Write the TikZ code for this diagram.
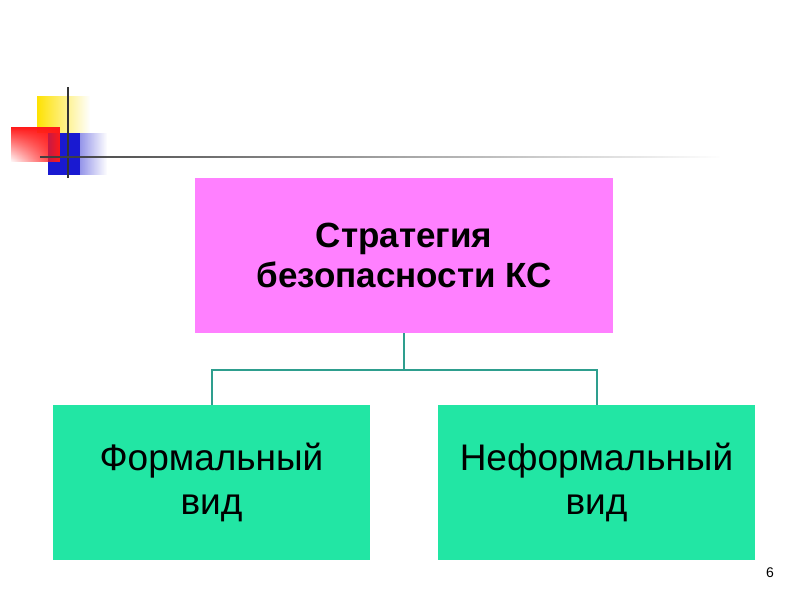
\documentclass[tikz,border=0pt]{standalone}
\usepackage{fontspec}
\setmainfont{Liberation Sans}
\usetikzlibrary{fadings}
\definecolor{mag}{HTML}{FF80FF}
\definecolor{grn}{HTML}{22E6A4}
\definecolor{lnk}{HTML}{2E9E8E}
\begin{document}
\begin{tikzpicture}[x=1pt,y=-1pt,
  boxst/.style={draw=none,minimum width=#1,align=center,inner sep=0pt},
  link/.style={draw=lnk,line width=2pt}]
\useasboundingbox[fill=white] (0,0) rectangle (800,600);
% decoration
\fill[yellow!85!orange,path fading=east] (37,96) rectangle (90,133);
\fill[red!90!white,path fading=south] (11,127) rectangle (60,162);
\fill[blue!80!black!90,path fading=east] (48,133) rectangle (107,175);
\fill[blue!80!black!90] (48,133) rectangle (80,175);
\fill[red!90!white,path fading=west] (11,127) rectangle (60,162);
\draw[line width=2pt,black!80] (68,87) -- (68,178);
\draw[line width=2.5pt,black!75,path fading=east] (40,157) -- (720,157);
% boxes
\node[fill=mag,minimum width=418pt,minimum height=155pt,align=center,font=\fontsize{35}{40}\selectfont\bfseries] (top) at (404,255.5) {Стратегия\\безопасности КС};
\node[fill=grn,minimum width=317pt,minimum height=155pt,align=center,font=\fontsize{37}{44}\selectfont] (l) at (211.5,482.5) {Формальный\\вид};
\node[fill=grn,minimum width=317pt,minimum height=155pt,align=center,font=\fontsize{37}{44}\selectfont] (r) at (596.5,482.5) {Неформальный\\вид};
\coordinate (m) at (404,370);
\draw[link] (top.south) -- (m);
\draw[link] (l.north) |- (m) -| (r.north);
\node[font=\fontsize{14}{16}\selectfont] (pg) at (770,573) {6};
\end{tikzpicture}
\end{document}
